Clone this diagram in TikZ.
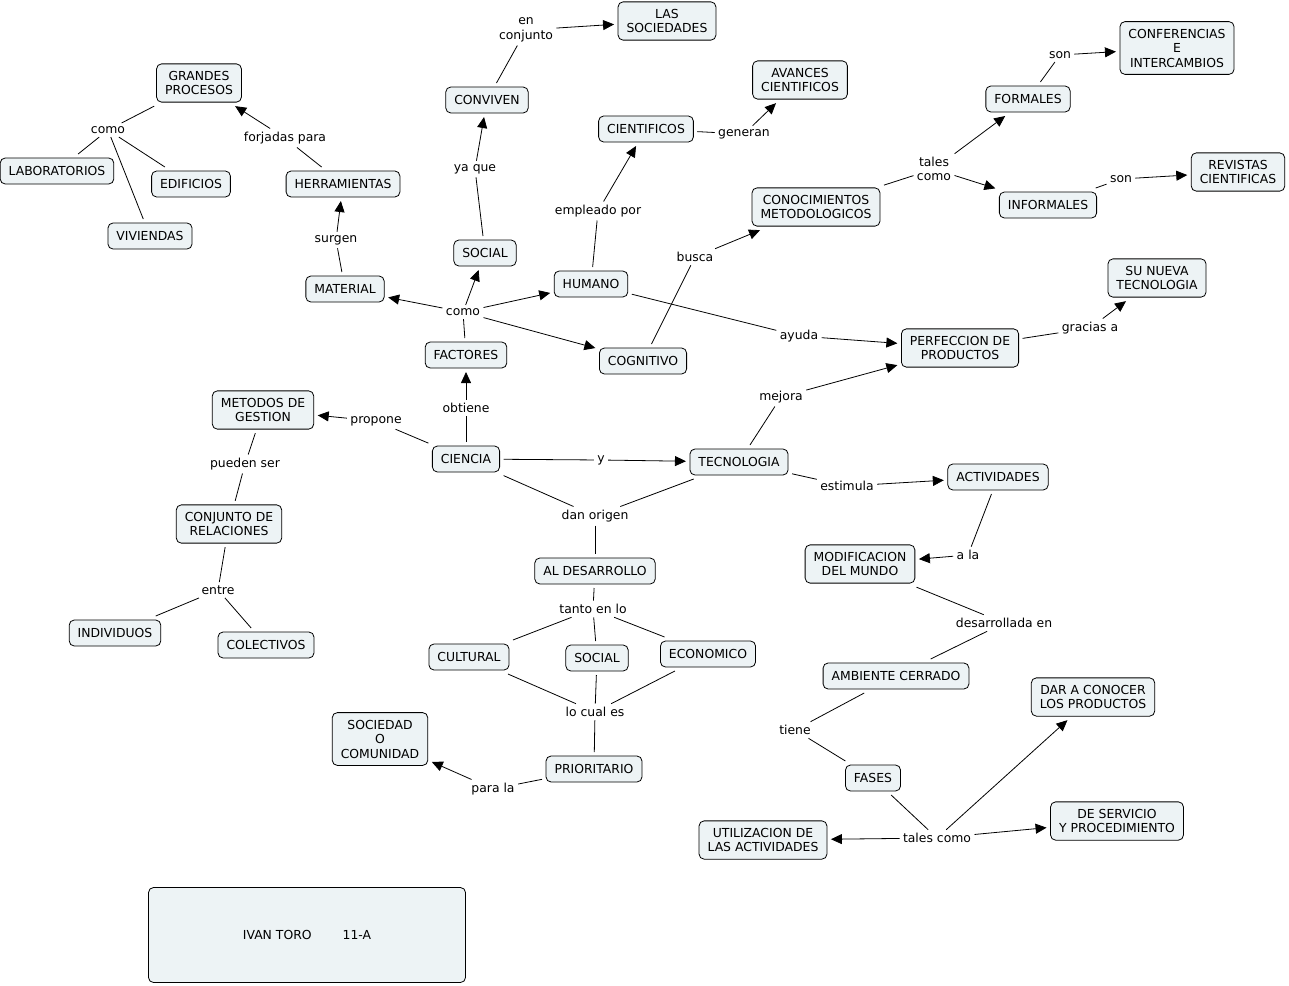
\documentclass[tikz,border=0pt]{standalone}
\usepackage{fontspec}
\setmainfont{DejaVu Sans}
\usetikzlibrary{arrows.meta}
\definecolor{boxfill}{RGB}{237,243,245}
\begin{document}
\begin{tikzpicture}[x=1pt,y=-1pt,
  every node/.style={font=\fontsize{12.4}{14.5}\selectfont},
  cpt/.style={draw=black, line width=0.8pt, rounded corners=5pt, fill=boxfill, inner xsep=8.5pt, inner ysep=7.2pt, minimum height=26pt, align=center, outer sep=4pt},
  lk/.style={inner sep=2pt, outer sep=1.5pt, align=center},
  ln/.style={line width=0.8pt},
  arr/.style={line width=0.8pt, -{Triangle[length=11pt,width=10pt]}}]
\useasboundingbox (0,0) rectangle (1289,985);
% concepts
\node[cpt] (gp) at (199,83) {GRANDES\\PROCESOS};
\node[cpt] (lab) at (57,171) {LABORATORIOS};
\node[cpt] (edi) at (191,184) {EDIFICIOS};
\node[cpt] (viv) at (150,236) {VIVIENDAS};
\node[cpt] (her) at (343,184) {HERRAMIENTAS};
\node[cpt] (con) at (487,100) {CONVIVEN};
\node[cpt] (las) at (667,21) {LAS\\SOCIEDADES};
\node[cpt] (cie) at (646,129) {CIENTIFICOS};
\node[cpt] (ava) at (800,80) {AVANCES\\CIENTIFICOS};
\node[cpt] (for) at (1028,99) {FORMALES};
\node[cpt] (conf) at (1177,48) {CONFERENCIAS\\E\\INTERCAMBIOS};
\node[cpt] (cono) at (816,207) {CONOCIMIENTOS\\METODOLOGICOS};
\node[cpt] (inf) at (1048,205) {INFORMALES};
\node[cpt] (rev) at (1238,172) {REVISTAS\\CIENTIFICAS};
\node[cpt] (soc) at (485,253) {SOCIAL};
\node[cpt] (mat) at (345,289) {MATERIAL};
\node[cpt] (hum) at (591,284) {HUMANO};
\node[cpt] (fac) at (466,355) {FACTORES};
\node[cpt] (cog) at (643,361) {COGNITIVO};
\node[cpt] (snt) at (1157,278) {SU NUEVA\\TECNOLOGIA};
\node[cpt] (per) at (960,348) {PERFECCION DE\\PRODUCTOS};
\node[cpt] (met) at (263,410) {METODOS DE\\GESTION};
\node[cpt] (cien) at (466,459) {CIENCIA};
\node[cpt] (tec) at (739,462) {TECNOLOGIA};
\node[cpt] (act) at (998,477) {ACTIVIDADES};
\node[cpt] (cdr) at (229,524) {CONJUNTO DE\\RELACIONES};
\node[cpt] (mod) at (860,564) {MODIFICACION\\DEL MUNDO};
\node[cpt] (ald) at (595,571) {AL DESARROLLO};
\node[cpt] (ind) at (115,633) {INDIVIDUOS};
\node[cpt] (col) at (266,645) {COLECTIVOS};
\node[cpt] (cul) at (469,657) {CULTURAL};
\node[cpt] (soc2) at (597,658) {SOCIAL};
\node[cpt] (eco) at (708,654) {ECONOMICO};
\node[cpt] (amb) at (896,676) {AMBIENTE CERRADO};
\node[cpt] (dar) at (1093,697) {DAR A CONOCER\\LOS PRODUCTOS};
\node[cpt] (sco) at (380,739) {SOCIEDAD\\O\\COMUNIDAD};
\node[cpt] (pri) at (594,769) {PRIORITARIO};
\node[cpt] (fas) at (873,778) {FASES};
\node[cpt] (uti) at (763,840) {UTILIZACION DE\\LAS ACTIVIDADES};
\node[cpt] (dse) at (1117,821) {DE SERVICIO\\Y PROCEDIMIENTO};
\node[cpt, minimum width=317pt, minimum height=95pt] (ivan) at (307,935) {IVAN TORO\hspace{31pt}11-A};
% linking phrases
\node[lk] (l1) at (108,130) {como};
\node[lk] (l2) at (285,138) {forjadas para};
\node[lk] (l3) at (336,240) {surgen};
\node[lk] (l4) at (526,30) {en\\conjunto};
\node[lk] (l5) at (475,169) {ya que};
\node[lk] (l6) at (744,134) {generan};
\node[lk] (l7) at (598,211) {empleado por};
\node[lk] (l8) at (934,169) {tales\\como};
\node[lk] (l9) at (1060,55) {son};
\node[lk] (l10) at (1121,179) {son};
\node[lk] (l11) at (695,257) {busca};
\node[lk] (l12) at (463,312) {como};
\node[lk] (l13) at (799,336) {ayuda};
\node[lk] (l14) at (1090,328) {gracias a};
\node[lk] (l15) at (466,408) {obtiene};
\node[lk] (l16) at (376,421) {propone};
\node[lk] (l17) at (781,397) {mejora};
\node[lk] (l18) at (601,460) {y};
\node[lk] (l19) at (847,486) {estimula};
\node[lk] (l20) at (245,464) {pueden ser};
\node[lk] (l21) at (595,516) {dan origen};
\node[lk] (l22) at (968,555) {a la};
\node[lk] (l23) at (218,590) {entre};
\node[lk] (l24) at (593,609) {tanto en lo};
\node[lk] (l25) at (1004,623) {desarrollada en};
\node[lk] (l26) at (595,712) {lo cual es};
\node[lk] (l27) at (795,730) {tiene};
\node[lk] (l28) at (493,789) {para la};
\node[lk] (l29) at (937,838) {tales como};
% connectors
\draw[ln] (gp) -- (l1); \draw[ln] (l1) -- (lab); \draw[ln] (l1) -- (edi); \draw[ln] (l1) -- (viv);
\draw[ln] (her) -- (l2); \draw[arr] (l2) -- (gp);
\draw[ln] (mat) -- (l3); \draw[arr] (l3) -- (her);
\draw[ln] (con) -- (l4); \draw[arr] (l4) -- (las);
\draw[ln] (soc) -- (l5); \draw[arr] (l5) -- (con);
\draw[ln] (cie) -- (l6); \draw[arr] (l6) -- (ava);
\draw[ln] (hum) -- (l7); \draw[arr] (l7) -- (cie);
\draw[ln] (cono) -- (l8); \draw[arr] (l8) -- (for); \draw[arr] (l8) -- (inf);
\draw[ln] (for) -- (l9); \draw[arr] (l9) -- (conf);
\draw[ln] (inf) -- (l10); \draw[arr] (l10) -- (rev);
\draw[ln] (cog) -- (l11); \draw[arr] (l11) -- (cono);
\draw[ln] (fac) -- (l12); \draw[arr] (l12) -- (mat); \draw[arr] (l12) -- (soc); \draw[arr] (l12) -- (hum); \draw[arr] (l12) -- (cog);
\draw[ln] (hum) -- (l13); \draw[arr] (l13) -- (per);
\draw[ln] (per) -- (l14); \draw[arr] (l14) -- (snt);
\draw[ln] (cien) -- (l15); \draw[arr] (l15) -- (fac);
\draw[ln] (cien) -- (l16); \draw[arr] (l16) -- (met);
\draw[ln] (tec) -- (l17); \draw[arr] (l17) -- (per);
\draw[ln] (cien) -- (l18); \draw[arr] (l18) -- (tec);
\draw[ln] (tec) -- (l19); \draw[arr] (l19) -- (act);
\draw[ln] (met) -- (l20); \draw[ln] (l20) -- (cdr);
\draw[ln] (cien) -- (l21); \draw[ln] (tec) -- (l21); \draw[ln] (l21) -- (ald);
\draw[ln] (act) -- (l22); \draw[arr] (l22) -- (mod);
\draw[ln] (cdr) -- (l23); \draw[ln] (l23) -- (ind); \draw[ln] (l23) -- (col);
\draw[ln] (ald) -- (l24); \draw[ln] (l24) -- (cul); \draw[ln] (l24) -- (soc2); \draw[ln] (l24) -- (eco);
\draw[ln] (mod) -- (l25); \draw[ln] (l25) -- (amb);
\draw[ln] (cul) -- (l26); \draw[ln] (soc2) -- (l26); \draw[ln] (eco) -- (l26); \draw[ln] (l26) -- (pri);
\draw[ln] (amb) -- (l27); \draw[ln] (l27) -- (fas);
\draw[ln] (pri) -- (l28); \draw[arr] (l28) -- (sco);
\draw[ln] (fas) -- (l29); \draw[arr] (l29) -- (uti); \draw[arr] (l29) -- (dar); \draw[arr] (l29) -- (dse);
\end{tikzpicture}
\end{document}
